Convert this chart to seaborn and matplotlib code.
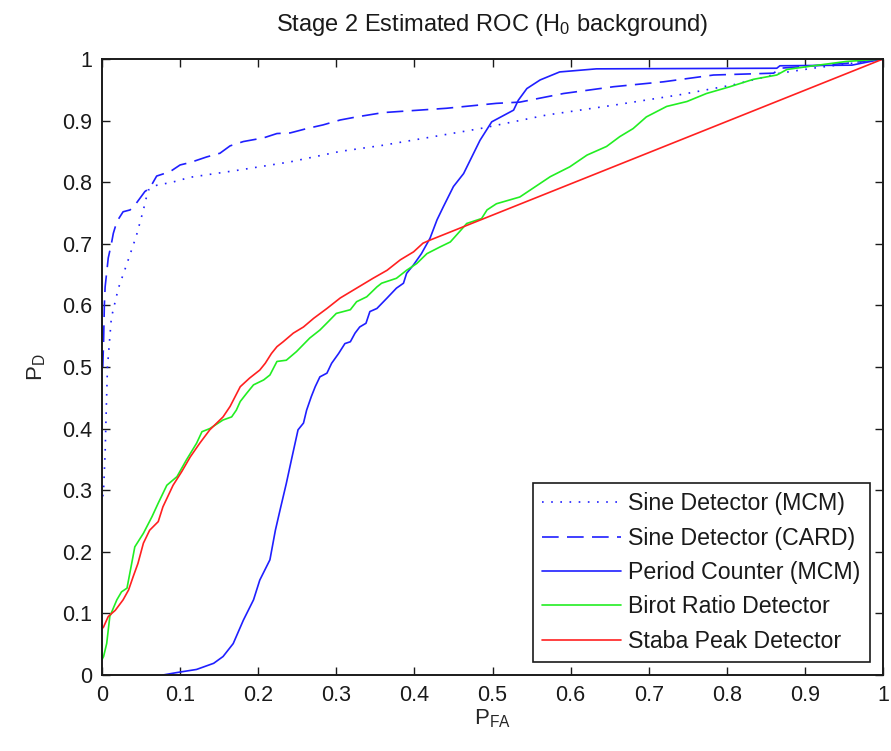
import numpy as np
import pandas as pd
import matplotlib
matplotlib.use("Agg")
import matplotlib.pyplot as plt
import seaborn as sns

# ---------------- data ----------------
sine_mcm_x = [0.001, 0.002, 0.004, 0.005, 0.007, 0.012, 0.021, 0.032, 0.044, 0.053,
              0.059, 0.070, 0.090, 0.113, 0.177, 0.241, 0.305, 0.360, 0.420, 0.484,
              0.569, 0.655, 0.740, 0.808, 0.868, 0.910, 0.960, 1.0]
sine_mcm_y = [0.29, 0.30, 0.36, 0.41, 0.50, 0.58, 0.628, 0.668, 0.713, 0.755,
              0.787, 0.795, 0.800, 0.808, 0.820, 0.833, 0.850, 0.860, 0.873, 0.887,
              0.909, 0.925, 0.942, 0.958, 0.977, 0.985, 0.993, 1.0]

sine_card_x = [0.001, 0.002, 0.003, 0.004, 0.008, 0.012, 0.0145, 0.019, 0.027, 0.036,
               0.044, 0.055, 0.061, 0.070, 0.087, 0.100, 0.113, 0.134, 0.151, 0.164,
               0.181, 0.207, 0.224, 0.241, 0.262, 0.283, 0.305, 0.326, 0.360, 0.441,
               0.505, 0.535, 0.591, 0.655, 0.719, 0.783, 0.860, 0.868, 0.953, 1.0]
sine_card_y = [0.50, 0.54, 0.60, 0.63, 0.677, 0.70, 0.717, 0.736, 0.752, 0.755,
               0.766, 0.785, 0.790, 0.810, 0.817, 0.828, 0.832, 0.841, 0.847, 0.859,
               0.866, 0.872, 0.879, 0.880, 0.887, 0.893, 0.901, 0.906, 0.913, 0.920,
               0.928, 0.930, 0.944, 0.955, 0.963, 0.974, 0.977, 0.985, 0.993, 1.0]

period_x = [0.078, 0.096, 0.121, 0.143, 0.155, 0.168, 0.181, 0.194, 0.202, 0.215,
            0.222, 0.228, 0.236, 0.243, 0.251, 0.258, 0.262, 0.268, 0.273, 0.279,
            0.288, 0.294, 0.303, 0.311, 0.318, 0.324, 0.330, 0.338, 0.343, 0.352,
            0.365, 0.377, 0.386, 0.390, 0.399, 0.409, 0.420, 0.429, 0.437, 0.450,
            0.463, 0.484, 0.499, 0.527, 0.533, 0.544, 0.561, 0.586, 0.633, 0.864,
            0.868, 0.960, 1.0]
period_y = [0.0, 0.004, 0.009, 0.019, 0.030, 0.051, 0.089, 0.122, 0.154, 0.187,
            0.235, 0.268, 0.311, 0.352, 0.398, 0.409, 0.430, 0.452, 0.468, 0.484,
            0.490, 0.506, 0.522, 0.538, 0.541, 0.555, 0.565, 0.571, 0.590, 0.595,
            0.612, 0.628, 0.636, 0.652, 0.666, 0.684, 0.709, 0.739, 0.760, 0.793,
            0.814, 0.868, 0.898, 0.917, 0.933, 0.952, 0.966, 0.979, 0.984, 0.985,
            0.989, 0.990, 1.0]

birot_x = [0.0, 0.002, 0.006, 0.010, 0.019, 0.025, 0.032, 0.038, 0.042, 0.053,
           0.064, 0.072, 0.083, 0.096, 0.108, 0.121, 0.128, 0.138, 0.155, 0.166,
           0.172, 0.177, 0.185, 0.194, 0.207, 0.215, 0.224, 0.236, 0.249, 0.266,
           0.279, 0.290, 0.300, 0.318, 0.326, 0.339, 0.352, 0.358, 0.377, 0.390,
           0.403, 0.416, 0.433, 0.446, 0.458, 0.467, 0.486, 0.493, 0.505, 0.535,
           0.548, 0.574, 0.599, 0.621, 0.646, 0.663, 0.680, 0.697, 0.723, 0.749,
           0.774, 0.804, 0.834, 0.864, 0.877, 0.911, 0.953, 1.0]
birot_y = [0.025, 0.030, 0.051, 0.095, 0.122, 0.135, 0.141, 0.181, 0.208, 0.230,
           0.257, 0.279, 0.308, 0.322, 0.349, 0.376, 0.395, 0.400, 0.414, 0.419,
           0.430, 0.444, 0.457, 0.471, 0.479, 0.487, 0.509, 0.511, 0.525, 0.547,
           0.560, 0.574, 0.587, 0.593, 0.606, 0.614, 0.630, 0.636, 0.644, 0.657,
           0.668, 0.684, 0.695, 0.703, 0.720, 0.733, 0.741, 0.755, 0.765, 0.776,
           0.787, 0.809, 0.825, 0.844, 0.858, 0.874, 0.887, 0.906, 0.923, 0.931,
           0.944, 0.955, 0.967, 0.974, 0.983, 0.989, 0.996, 1.0]

staba_x = [0.0, 0.002, 0.008, 0.017, 0.027, 0.034, 0.040, 0.046, 0.053, 0.061,
           0.072, 0.078, 0.091, 0.102, 0.113, 0.125, 0.138, 0.155, 0.164, 0.177,
           0.189, 0.202, 0.209, 0.217, 0.224, 0.232, 0.245, 0.258, 0.271, 0.288,
           0.305, 0.326, 0.347, 0.365, 0.382, 0.399, 0.411, 0.420, 1.0]
staba_y = [0.075, 0.078, 0.095, 0.105, 0.122, 0.138, 0.160, 0.181, 0.214, 0.235,
           0.249, 0.273, 0.308, 0.330, 0.354, 0.376, 0.398, 0.419, 0.436, 0.468,
           0.482, 0.495, 0.506, 0.522, 0.533, 0.541, 0.555, 0.565, 0.579, 0.595,
           0.612, 0.628, 0.644, 0.657, 0.674, 0.687, 0.701, 0.706, 1.0]

series_names = ["Sine Detector (MCM)", "Sine Detector (CARD)", "Period Counter (MCM)",
                "Birot Ratio Detector", "Staba Peak Detector"]
tick_values = [0, 0.1, 0.2, 0.3, 0.4, 0.5, 0.6, 0.7, 0.8, 0.9, 1]
tick_labels = ["0", "0.1", "0.2", "0.3", "0.4", "0.5", "0.6", "0.7", "0.8", "0.9", "1"]

# ---------------- styling ----------------
sns.set_theme(style="ticks")
plt.rcParams["font.family"] = ["Liberation Sans", "DejaVu Sans"]
plt.rcParams["mathtext.fontset"] = "custom"
plt.rcParams["mathtext.rm"] = "Liberation Sans"
plt.rcParams["mathtext.it"] = "Liberation Sans"
plt.rcParams["text.color"] = "#1a1a1a"

fig = plt.figure(figsize=(8.91, 7.51), dpi=100)
ax = fig.add_axes([102 / 891, 1 - 675 / 751, 781 / 891, 616 / 751])

xs = [sine_mcm_x, sine_card_x, period_x, birot_x, staba_x]
ys = [sine_mcm_y, sine_card_y, period_y, birot_y, staba_y]
colors = ["#1f1fff", "#1f1fff", "#1f1fff", "#22ee22", "#ff2020"]
styles = [(0, (1, 4.5)), (0, (10, 5)), "-", "-", "-"]

for name, x, y, c, ls in zip(series_names, xs, ys, colors, styles):
    df = pd.DataFrame({"PFA": x, "PD": y})
    sns.lineplot(data=df, x="PFA", y="PD", ax=ax, sort=False, estimator=None,
                 color=c, linestyle=ls, linewidth=1.2, label=name)

ax.set_xlim(0, 1)
ax.set_ylim(0, 1)
ax.set_xticks(tick_values)
ax.set_xticklabels(tick_labels)
ax.set_yticks(tick_values)
ax.set_yticklabels(tick_labels)
ax.tick_params(direction="in", length=6, width=1.0, top=True, right=True,
               labelsize=15.5, pad=7, colors="#1a1a1a")
for sp in ax.spines.values():
    sp.set_visible(True)
    sp.set_linewidth(1.4)
    sp.set_color("#1a1a1a")

ax.set_title(r"Stage 2 Estimated ROC ($\mathregular{H_0}$ background)", fontsize=17, pad=20)
ax.set_xlabel(r"$\mathregular{P_{FA}}$", fontsize=16, labelpad=1)
ax.set_ylabel(r"$\mathregular{P_D}$", fontsize=16, labelpad=10)

leg = ax.legend(loc="lower right", bbox_to_anchor=(0.983, 0.021), borderaxespad=0,
                fancybox=False, edgecolor="#1a1a1a", framealpha=1, fontsize=16.7,
                handlelength=3.4, handletextpad=0.3, labelspacing=0.49, borderpad=0.4)
leg.get_frame().set_linewidth(1.2)

fig.savefig("out.png", dpi=100)
